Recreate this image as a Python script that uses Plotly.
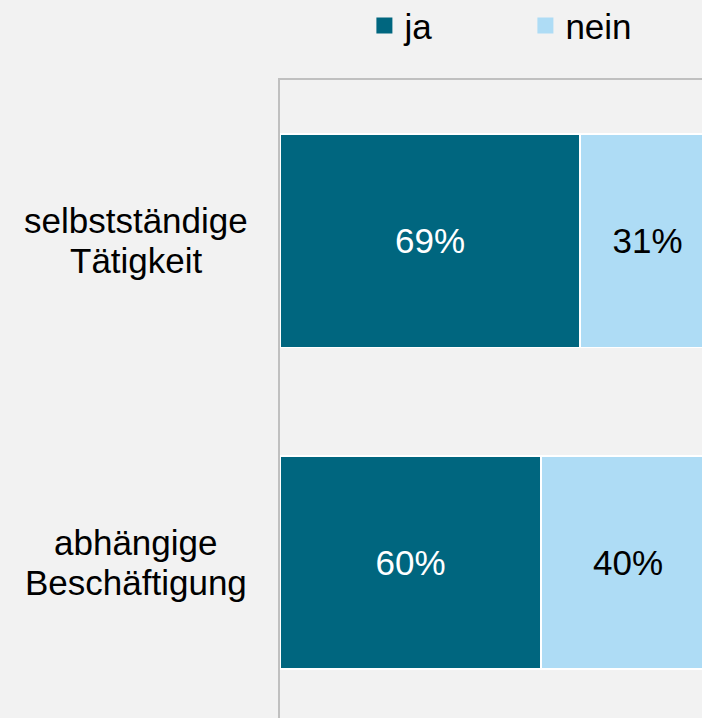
import plotly.graph_objects as go

categories = ["selbstständige<br>Tätigkeit", "abhängige<br>Beschäftigung"]
ja_values = [69, 60]
nein_values = [31, 40]
series_names = ["ja", "nein"]

DARK = "#00667F"
LIGHT = "#AEDCF5"
BG = "#F2F2F2"
FONT = "Arial, Liberation Sans, sans-serif"
FS = 35
colors = [DARK, LIGHT]
text_colors = ["white", "black"]

fig = go.Figure()
for name, vals, col, tcol in zip(series_names, [ja_values, nein_values], colors, text_colors):
    fig.add_trace(go.Bar(
        y=categories, x=vals, name=name, orientation="h", showlegend=False,
        legendgroup=name,
        marker=dict(color=col, line=dict(color="white", width=1.5)),
        width=0.663, texttemplate="%{x}%", textposition="inside",
        insidetextanchor="middle",
        textfont=dict(color=tcol, size=FS, family=FONT),
    ))
# legend entries with larger square swatches
for name, col in zip(series_names, colors):
    fig.add_trace(go.Scatter(
        x=[None], y=[None], mode="markers", name=name, legendgroup=name,
        marker=dict(symbol="square", size=16, color=col),
        showlegend=True,
    ))

# category labels, one annotation per line for tighter line spacing
for c in categories:
    lines = c.split("<br>")
    n = len(lines)
    for i, line in enumerate(lines):
        fig.add_annotation(
            x=-0.341, xref="paper", y=c, yref="y", text=line, showarrow=False,
            xanchor="center", yanchor="middle", align="center",
            yshift=(n - 1) * 20 - i * 40,
            font=dict(size=FS, color="black", family=FONT),
        )

fig.update_layout(
    width=702, height=718,
    margin=dict(l=280, r=0, t=80, b=0, autoexpand=False),
    paper_bgcolor=BG, plot_bgcolor=BG,
    barmode="stack",
    font=dict(family=FONT, size=FS, color="black"),
    showlegend=True,
    legend=dict(
        orientation="h", x=0.2, xanchor="left", y=0.964, yref="container",
        yanchor="middle", font=dict(size=FS, family=FONT, color="black"),
        entrywidth=116, entrywidthmode="pixels",
        bgcolor="rgba(0,0,0,0)", traceorder="normal",
    ),
    xaxis=dict(
        range=[0, 97], side="top", showline=True, linecolor="#C0C0C0",
        linewidth=2, showgrid=False, zeroline=False, showticklabels=False,
        ticks="", fixedrange=True, layer="below traces",
    ),
    yaxis=dict(
        type="category", categoryorder="array", categoryarray=categories,
        range=[1.484, -0.5], showline=True, linecolor="#C0C0C0", linewidth=2,
        showgrid=False, zeroline=False, showticklabels=False, ticks="",
        fixedrange=True, layer="below traces",
    ),
)

fig.write_html(
    "out.html",
    config={"displayModeBar": False},
    post_script="document.body.style.margin='0';document.body.style.background='#F2F2F2';",
)
